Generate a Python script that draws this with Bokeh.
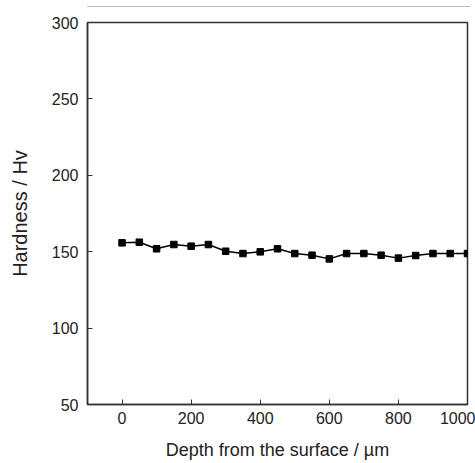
from bokeh.plotting import figure
from bokeh.models import Range1d, FixedTicker, Div
from bokeh.layouts import column
from bokeh.embed import file_html
from bokeh.resources import INLINE

depth = [0, 50, 100, 150, 200, 250, 300, 350, 400, 450, 500, 550, 600, 650, 700, 750, 800, 850, 900, 950, 1000]
hardness = [155.8, 156.2, 151.9, 154.7, 153.6, 154.7, 150.3, 148.8, 149.9, 151.9, 148.8, 147.7, 145.3, 148.8,
            148.8, 147.7, 145.8, 147.5, 148.8, 148.8, 148.8]
x_ticks = [0, 200, 400, 600, 800, 1000]
y_ticks = [50, 100, 150, 200, 250, 300]

top = Div(text="", width=383, height=7, margin=0,
          styles={"margin-left": "87px", "border-bottom": "1px solid #bbbbbb"})

p = figure(width=475, height=455, output_backend="svg", toolbar_location=None,
           x_range=Range1d(-100, 1000), y_range=Range1d(50, 300),
           min_border_left=87, min_border_right=8, min_border_top=15, min_border_bottom=58,
           margin=0)
p.grid.visible = False
p.outline_line_color = "#333333"
p.outline_line_width = 1.5
p.background_fill_color = "white"

p.line(depth, hardness, line_color="black", line_width=1.5)
p.scatter(depth, hardness, marker="square", size=6.5, fill_color="black", line_color="black")

for ax in (p.xaxis[0], p.yaxis[0]):
    ax.axis_line_color = "#333333"
    ax.axis_line_width = 1.5
    ax.major_tick_in = 5
    ax.major_tick_out = 0
    ax.minor_tick_line_color = None
    ax.major_tick_line_color = "#333333"
    ax.major_label_text_font = "Liberation Sans"
    ax.major_label_text_font_size = "16px"
    ax.major_label_text_color = "#222222"
    ax.axis_label_text_font = "Liberation Sans"
    ax.axis_label_text_font_style = "normal"
    ax.axis_label_text_color = "#222222"

p.xaxis.axis_label_text_font_size = "18px"
p.yaxis.axis_label_text_font_size = "20px"
p.xaxis.ticker = FixedTicker(ticks=x_ticks)
p.yaxis.ticker = FixedTicker(ticks=y_ticks)
p.xaxis.axis_label = "Depth from the surface / µm"
p.yaxis.axis_label = "Hardness / Hv"
p.xaxis.major_label_standoff = 7
p.yaxis.major_label_standoff = 9
p.xaxis.axis_label_standoff = 13
p.yaxis.axis_label_standoff = 18

layout = column(top, p, spacing=0)
open("out.html", "w").write(file_html(layout, INLINE))
